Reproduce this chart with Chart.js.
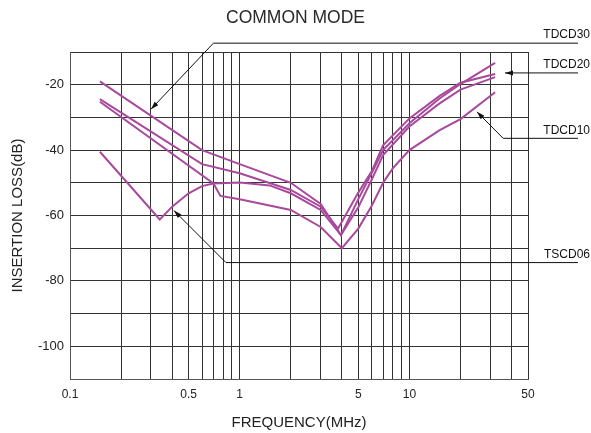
<!DOCTYPE html>
<html>
<head>
<meta charset="utf-8">
<script src="https://cdn.jsdelivr.net/npm/chart.js@4/dist/chart.umd.min.js"></script>
<style>
	html, body { margin: 0; padding: 0; background: #fff; }
</style>
</head>
<body>
<canvas id="chart-area" width="591" height="433"></canvas>
<script>
// Frequency (MHz) and insertion loss (dB)
var tdcd30Freq = [0.15, 0.6, 1, 2, 3, 3.95, 5, 6, 7, 10, 15, 20, 32];
var tdcd30Loss = [-19, -40, -44.3, -50, -56.5, -66, -55, -47, -40, -31.8, -24.3, -19.8, -13.3];

var tdcd20Freq = [0.15, 0.6, 1, 2, 3, 3.8, 5, 6, 7, 10, 15, 20, 32];
var tdcd20Loss = [-24.4, -44.3, -47.1, -52.2, -57.3, -64, -53, -46.5, -38.5, -30.3, -23.5, -19.4, -16.7];

var tdcd10Freq = [0.15, 0.7, 0.77, 1, 2, 3, 4, 5, 6, 7, 8, 10, 15, 20, 32];
var tdcd10Loss = [-25.2, -50.2, -54, -55, -58.3, -63.5, -70, -64, -57, -50, -45.5, -40, -34, -30.5, -22.3];

var tscd06Freq = [0.15, 0.338, 0.4, 0.5, 0.6, 0.7, 1, 1.5, 2, 3, 3.95, 5, 6, 7, 10, 15, 20, 32];
var tscd06Loss = [-40.5, -61.2, -57.3, -53.2, -51, -50.2, -49.9, -50.8, -53.2, -58.3, -66, -57.5, -49, -41.5, -32.8, -25.8, -21.5, -17.7];

var gridFreqs = [0.1, 0.2, 0.3, 0.4, 0.5, 0.6, 0.7, 0.8, 0.9, 1, 2, 3, 4, 5, 6, 7, 8, 9, 10, 20, 30, 40, 50];
var freqLabels = [0.1, 0.5, 1, 5, 10, 50];

var seriesNames = ['TDCD30', 'TDCD20', 'TDCD10', 'TSCD06'];
var seriesFreqs = [tdcd30Freq, tdcd20Freq, tdcd10Freq, tscd06Freq];
var seriesLosses = [tdcd30Loss, tdcd20Loss, tdcd10Loss, tscd06Loss];

var curveColor = '#a8499c';
var gridColor = '#333';
var fontFamily = '"Liberation Sans", Arial, sans-serif';

function toPoints(freqs, losses) {
	return freqs.map(function (f, i) { return { x: f, y: losses[i] }; });
}

// leader lines: arrow tip (data coords), elbow (data coords), label
var leaders = [
	{ label: 'TDCD30', tip: [0.3, -27.5], elbow: [0.7, -7.3] },
	{ label: 'TDCD20', tip: [36.6, -16.4], elbow: [36.6, -16.4] },
	{ label: 'TDCD10', tip: [25, -28.3], elbow: [35.7, -36.4] },
	{ label: 'TSCD06', tip: [0.41, -58.5], elbow: [0.83, -74.4] }
];

var leaderPlugin = {
	id: 'leaders',
	afterDraw: function (chart) {
		var ctx = chart.ctx;
		var xs = chart.scales.x, ys = chart.scales.y;
		var lineEnd = chart.chartArea.right + 50;
		ctx.save();
		ctx.strokeStyle = '#111';
		ctx.fillStyle = '#111';
		ctx.lineWidth = 1;
		leaders.forEach(function (l) {
			var tx = xs.getPixelForValue(l.tip[0]), ty = ys.getPixelForValue(l.tip[1]);
			var ex = xs.getPixelForValue(l.elbow[0]), ey = ys.getPixelForValue(l.elbow[1]);
			ctx.beginPath();
			ctx.moveTo(tx, ty);
			ctx.lineTo(ex, ey);
			ctx.lineTo(lineEnd, ey);
			ctx.stroke();

			// arrow head
			var dx = tx - (ex === tx && ey === ty ? lineEnd : ex);
			var dy = ty - ey;
			var len = Math.sqrt(dx * dx + dy * dy);
			var ux = dx / len, uy = dy / len;
			ctx.beginPath();
			ctx.moveTo(tx, ty);
			ctx.lineTo(tx - ux * 8 - uy * 2.5, ty - uy * 8 + ux * 2.5);
			ctx.lineTo(tx - ux * 8 + uy * 2.5, ty - uy * 8 - ux * 2.5);
			ctx.closePath();
			ctx.fill();

			ctx.font = '12px ' + fontFamily;
			ctx.textAlign = 'right';
			ctx.textBaseline = 'middle';
			ctx.fillText(l.label, chart.width - 1, ey - 8);
		});
		ctx.restore();
	}
};

var config = {
	type: 'line',
	data: {
		datasets: seriesNames.map(function (name, i) {
			return {
				label: name,
				data: toPoints(seriesFreqs[i], seriesLosses[i]),
				borderColor: curveColor,
				borderWidth: 2,
				pointRadius: 0,
				tension: 0,
				fill: false
			};
		})
	},
	options: {
		responsive: false,
		animation: false,
		layout: { padding: 0 },
		plugins: {
			legend: { display: false },
			tooltip: { enabled: false },
			title: {
				display: true,
				text: 'COMMON MODE',
				color: '#2a2a2a',
				font: { family: fontFamily, size: 17.5, weight: 'normal' },
				padding: { top: 8, bottom: 23 }
			}
		},
		scales: {
			x: {
				type: 'logarithmic',
				min: 0.1,
				max: 50,
				afterBuildTicks: function (scale) {
					scale.ticks = gridFreqs.map(function (v) { return { value: v }; });
				},
				afterFit: function (scale) { scale.height = 54; },
				grid: { color: gridColor, lineWidth: 1, drawTicks: false },
				border: { color: '#555' },
				ticks: {
					autoSkip: false,
					maxRotation: 0,
					padding: 8,
					color: '#222',
					font: { family: fontFamily, size: 12 },
					callback: function (value) {
						return freqLabels.indexOf(value) >= 0 ? String(value) : '';
					}
				},
				title: {
					display: true,
					text: 'FREQUENCY(MHz)',
					color: '#222',
					font: { family: fontFamily, size: 15 },
					padding: { top: 0, bottom: 1 }
				}
			},
			y: {
				min: -110,
				max: -10,
				afterFit: function (scale) { scale.width = 70; },
				grid: { color: gridColor, lineWidth: 1, drawTicks: false },
				border: { color: '#555' },
				ticks: {
					stepSize: 10,
					padding: 6,
					color: '#222',
					font: { family: fontFamily, size: 13 },
					callback: function (value) {
						return value % 20 === 0 ? String(value) : '';
					}
				},
				title: {
					display: true,
					text: 'INSERTION LOSS(dB)',
					color: '#222',
					font: { family: fontFamily, size: 15 },
					padding: { top: 9, bottom: 0 }
				}
			},
			// empty right axis, only reserves room for the leader labels
			yRight: {
				position: 'right',
				afterFit: function (scale) { scale.width = 63; },
				grid: { display: false, drawTicks: false },
				border: { display: false },
				ticks: { display: false }
			}
		}
	},
	plugins: [leaderPlugin]
};

var ctx = document.getElementById('chart-area').getContext('2d');
var myChart = new Chart(ctx, config);
</script>
</body>
</html>
